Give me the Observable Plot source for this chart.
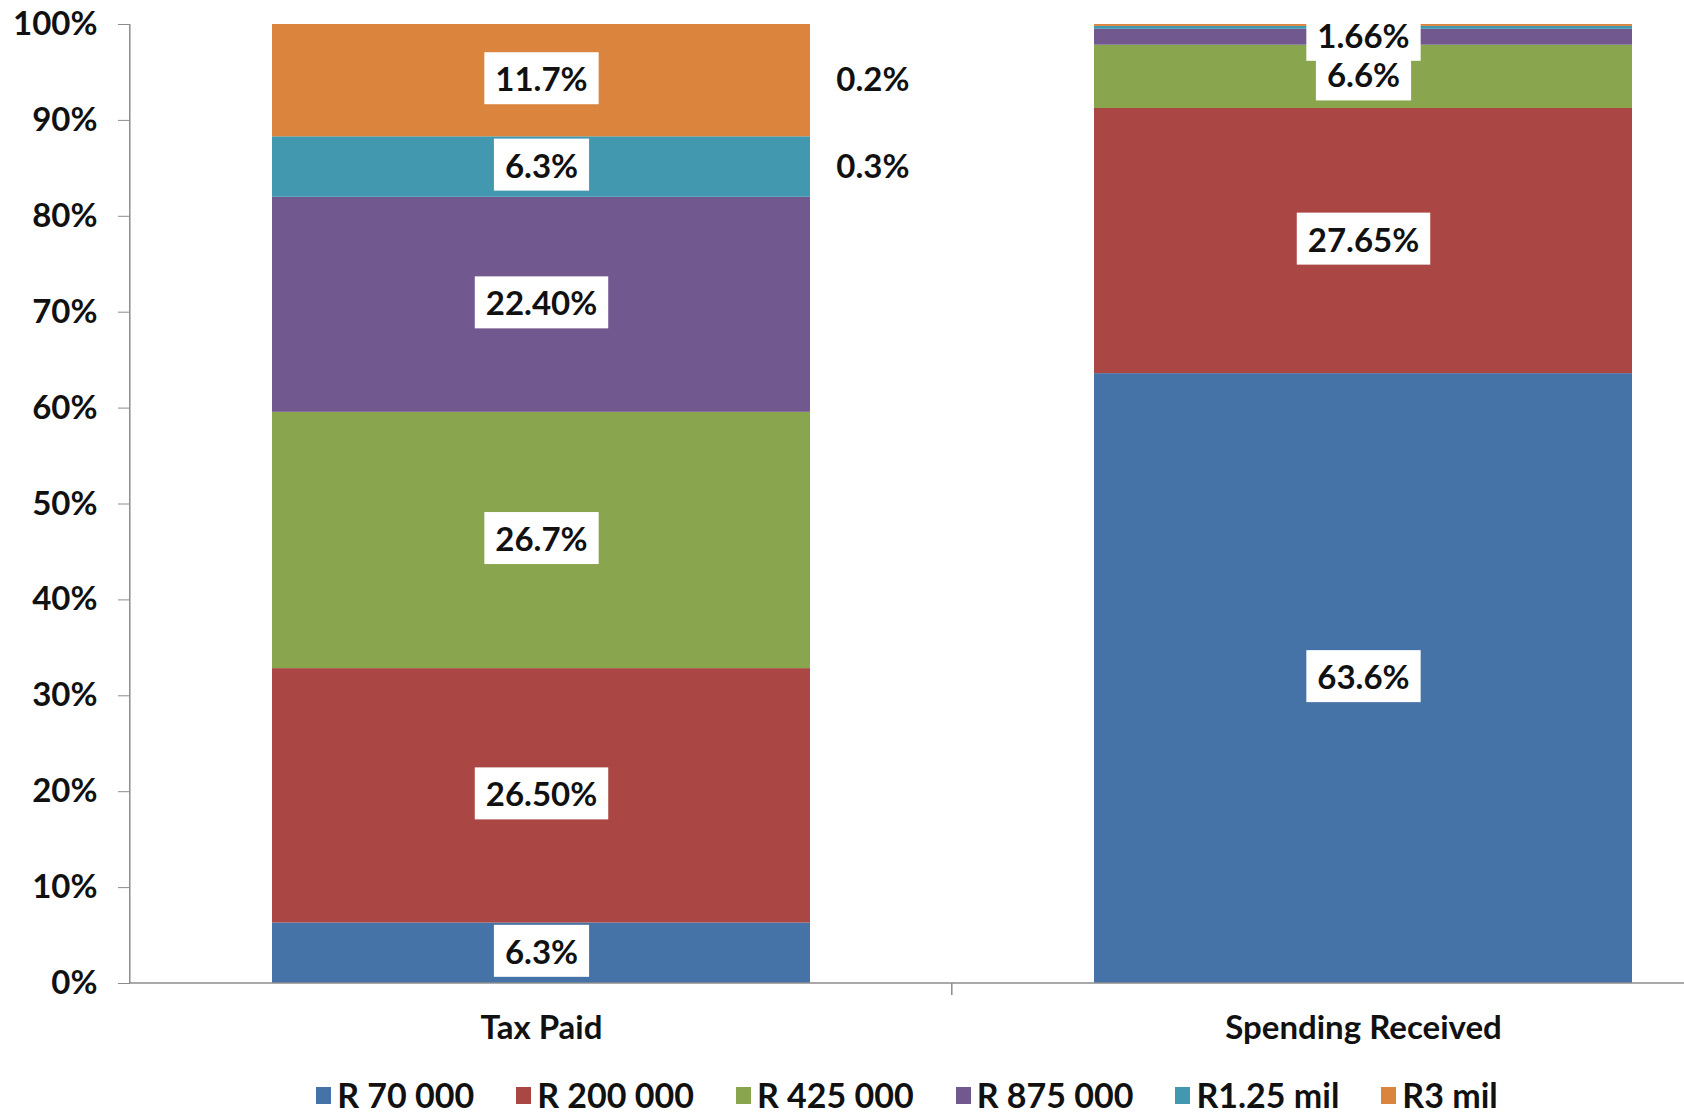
<!DOCTYPE html>
<html>
<head>
<meta charset="utf-8">
<script src="https://cdn.jsdelivr.net/npm/d3@7"></script>
<script src="https://cdn.jsdelivr.net/npm/@observablehq/plot@0.6"></script>
<style>
  html, body { margin: 0; padding: 0; background: #fff; }
  body { width: 1684px; font-family: Lato, "Open Sans", sans-serif; }
  #chart svg { display: block; }
  #legend { display: flex; justify-content: center; align-items: center; padding-left: 130px; box-sizing: border-box; width: 1684px; margin-top: 12px; font-weight: 700; font-size: 34px; line-height: 34px; height: 34px; color: #111; }
  #legend .item { display: flex; align-items: center; margin: 0 21px; white-space: nowrap; }
  #legend .sw { width: 15px; height: 17px; margin-right: 6px; display: inline-block; }
</style>
</head>
<body>
<div id="chart"></div>
<div id="legend"></div>
<script>
// ---- data ----
const categories = ["Tax Paid", "Spending Received"];
const brackets = ["R 70 000", "R 200 000", "R 425 000", "R 875 000", "R1.25 mil", "R3 mil"];
const colors = ["#4572A7", "#AA4643", "#89A54E", "#71588F", "#4198AF", "#DB843D"];
const taxPaid = [6.3, 26.5, 26.7, 22.4, 6.3, 11.7];
const taxPaidLabels = ["6.3%", "26.50%", "26.7%", "22.40%", "6.3%", "11.7%"];
const spendingReceived = [63.6, 27.65, 6.6, 1.66, 0.3, 0.2];
const spendingLabels = ["63.6%", "27.65%", "6.6%", "1.66%", "0.3%", "0.2%"];
const yTicks = [0, 0.1, 0.2, 0.3, 0.4, 0.5, 0.6, 0.7, 0.8, 0.9, 1];

// ---- tables built from arrays ----
const rows = [];
brackets.forEach((b, i) => rows.push({category: categories[0], bracket: b, value: taxPaid[i], label: taxPaidLabels[i]}));
brackets.forEach((b, i) => rows.push({category: categories[1], bracket: b, value: spendingReceived[i], label: spendingReceived[i] >= 1 ? spendingLabels[i] : null}));
// small Spending values are labelled beside the Tax Paid bar, level with its top segments
const outsideRows = brackets.map((b, i) => ({category: categories[0], bracket: b, value: taxPaid[i], label: spendingReceived[i] < 1 ? spendingLabels[i] : null}));

// ---- layout ----
const W = 1684, H = 1066;
const xRange = [130, 1774];
const pInner = 0.346, pOuter = 0.173;
const step = (xRange[1] - xRange[0]) / (categories.length - pInner + 2 * pOuter);
const bw = step * (1 - pInner);
const FS = 33;

const axisLines = (index, scales) => {
  const g = d3.create("svg:g").attr("stroke", "#8c8c8c").attr("stroke-width", 1.5);
  const x = scales.x, y = scales.y;
  const y0 = y(0), y1 = y(1);
  const left = x(categories[0]) - (step - bw) / 2;
  g.append("line").attr("x1", left).attr("x2", left).attr("y1", y0).attr("y2", y1);
  for (let i = 1; i < categories.length; i++) {
    const xb = x(categories[i]) - (step - bw) / 2;
    g.append("line").attr("x1", xb).attr("x2", xb).attr("y1", y0).attr("y2", y0 + 12);
  }
  g.append("line").attr("x1", left).attr("x2", W).attr("y1", y0).attr("y2", y0);
  return g.node();
};

const chart = Plot.plot({
  width: W,
  height: H,
  marginLeft: 130,
  marginRight: 0,
  marginTop: 24,
  marginBottom: H - 983,
  style: {fontFamily: "Lato, 'Open Sans', sans-serif", fontSize: FS + "px", fontWeight: 700, color: "#111", background: "#fff"},
  x: {type: "band", domain: categories, range: xRange, paddingInner: pInner, paddingOuter: pOuter, label: null},
  y: {domain: [0, 1], label: null},
  color: {domain: brackets, range: colors},
  marks: [
    Plot.barY(rows, Plot.stackY({x: "category", y: "value", fill: "bracket", order: brackets, offset: "normalize"})),
    axisLines,
    Plot.axisY({ticks: yTicks, tickFormat: d3.format(".0%"), tickSize: 12, tickPadding: 21, stroke: "#8c8c8c", fontSize: FS, fontWeight: 700, fill: "#111"}),
    Plot.axisX({tickSize: 0, tickPadding: 32, fontSize: FS, fontWeight: 700, fill: "#111"}),
    Plot.text(rows, Plot.stackY({x: "category", y: "value", z: "bracket", text: "label", order: brackets, offset: "normalize", fill: "#111", fontSize: FS, fontWeight: 700})),
    Plot.text(outsideRows, Plot.stackY({x: "category", y: "value", z: "bracket", text: "label", order: brackets, offset: "normalize", fill: "#111", fontSize: FS, fontWeight: 700, textAnchor: "start", dx: bw / 2 + 26}))
  ]
});
document.getElementById("chart").appendChild(chart);

// white boxes behind the in-bar labels (first text mark)
const labelGroup = chart.querySelectorAll('g[aria-label="text"]')[0];
if (labelGroup) {
  const boxes = document.createElementNS("http://www.w3.org/2000/svg", "g");
  labelGroup.querySelectorAll("text").forEach(t => {
    const b = t.getBBox();
    if (!b.width) return;
    const r = document.createElementNS("http://www.w3.org/2000/svg", "rect");
    r.setAttribute("x", b.x - 11);
    r.setAttribute("y", b.y - 6);
    r.setAttribute("width", b.width + 22);
    r.setAttribute("height", b.height + 12);
    r.setAttribute("fill", "#fff");
    const tr = t.getAttribute("transform");
    if (tr) r.setAttribute("transform", tr);
    let p = t.parentNode, ptr = p !== labelGroup ? p.getAttribute("transform") : null;
    if (ptr) r.setAttribute("transform", ptr + " " + (tr || ""));
    boxes.appendChild(r);
  });
  const gtr = labelGroup.getAttribute("transform");
  if (gtr) boxes.setAttribute("transform", gtr);
  labelGroup.parentNode.insertBefore(boxes, labelGroup);
}

// legend
const legend = d3.select("#legend");
brackets.forEach((b, i) => {
  const it = legend.append("div").attr("class", "item");
  it.append("span").attr("class", "sw").style("background", colors[i]);
  it.append("span").text(b);
});
</script>
</body>
</html>
